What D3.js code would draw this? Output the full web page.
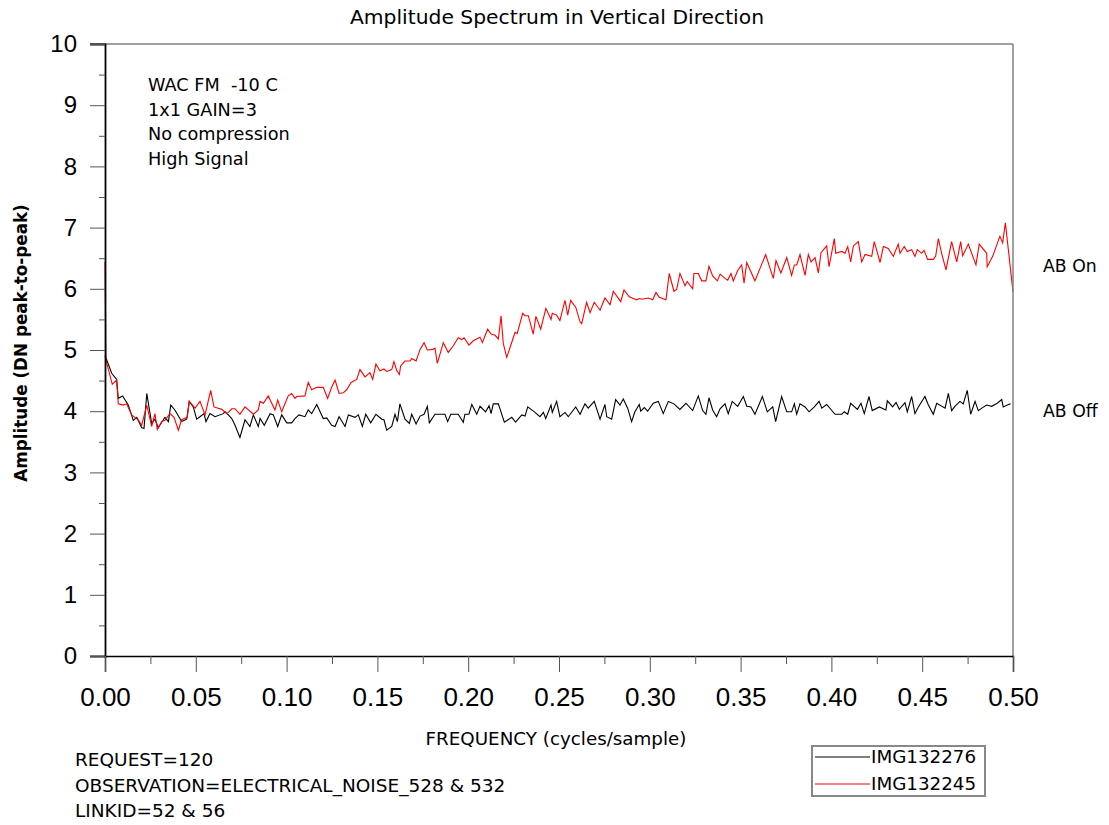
<!DOCTYPE html>
<html>
<head>
<meta charset="utf-8">
<script src="https://cdn.jsdelivr.net/npm/d3@7"></script>
<style>
  body { margin: 0; background: #fff; }
  svg { font-family: "DejaVu Sans", Verdana, sans-serif; }
</style>
</head>
<body>
<svg width="1109" height="825"></svg>
<script>
// Data (frequency in cycles/sample, amplitude in DN)
var freqBlack = [0, 0.0009, 0.0037, 0.0064, 0.0073, 0.0097, 0.0128, 0.0156, 0.0175, 0.0202, 0.0215, 0.0230, 0.0257, 0.0275, 0.0293, 0.0330,
	0.0349, 0.0362, 0.0385, 0.0422, 0.0450, 0.0464, 0.0486, 0.0505, 0.0523, 0.0545, 0.0556, 0.0578, 0.0606, 0.0651, 0.0661, 0.0679,
	0.0698, 0.0716, 0.0743, 0.0771, 0.0798, 0.0817, 0.0844, 0.0854, 0.0877, 0.0909, 0.0927, 0.0951, 0.0973, 0.1001, 0.1028, 0.1046,
	0.1068, 0.1101, 0.1119, 0.1138, 0.1166, 0.1202, 0.1221, 0.1248, 0.1267, 0.1289, 0.1322, 0.1340, 0.1377, 0.1395, 0.1417, 0.1436,
	0.1463, 0.1492, 0.1524, 0.1536, 0.1551, 0.1579, 0.1597, 0.1610, 0.1624, 0.1652, 0.1676, 0.1689, 0.1713, 0.1735, 0.1757, 0.1775,
	0.1786, 0.1817, 0.1872, 0.1887, 0.1904, 0.1945, 0.1973, 0.1982, 0.2004, 0.2020, 0.2047, 0.2065, 0.2096, 0.2115, 0.2126, 0.2138,
	0.2166, 0.2199, 0.2240, 0.2261, 0.2295, 0.2313, 0.2328, 0.2368, 0.2395, 0.2414, 0.2427, 0.2456, 0.2463, 0.2487, 0.2505, 0.2533,
	0.2551, 0.2592, 0.2616, 0.2643, 0.2661, 0.2694, 0.2726, 0.2753, 0.2763, 0.2790, 0.2812, 0.2836, 0.2854, 0.2878, 0.2900, 0.2918,
	0.2942, 0.2950, 0.2970, 0.2988, 0.3019, 0.3047, 0.3074, 0.3102, 0.3133, 0.3166, 0.3199, 0.3236, 0.3267, 0.3291, 0.3309, 0.3326,
	0.3346, 0.3368, 0.3387, 0.3414, 0.3432, 0.3454, 0.3484, 0.3515, 0.3534, 0.3557, 0.3579, 0.3620, 0.3647, 0.3677, 0.3693, 0.3726,
	0.3754, 0.3781, 0.3796, 0.3809, 0.3827, 0.3855, 0.3877, 0.3906, 0.3932, 0.3947, 0.3974, 0.4020, 0.4057, 0.4071, 0.4090, 0.4106,
	0.4143, 0.4163, 0.4181, 0.4207, 0.4225, 0.4264, 0.4300, 0.4308, 0.4337, 0.4356, 0.4374, 0.4405, 0.4418, 0.4442, 0.4460, 0.4479,
	0.4515, 0.4534, 0.4561, 0.4580, 0.4626, 0.4644, 0.4662, 0.4680, 0.4708, 0.4726, 0.4748, 0.4767, 0.4791, 0.4809, 0.4828, 0.4855,
	0.4883, 0.4913, 0.4938, 0.4946, 0.4969, 0.4987];
var ampBlack = [4.90, 4.84, 4.62, 4.52, 4.21, 4.25, 4.10, 3.85, 3.90, 3.73, 3.72, 4.29, 3.80, 3.87, 3.73, 3.90,
	3.83, 4.10, 4.02, 3.83, 3.87, 4.16, 4.07, 3.87, 3.91, 3.96, 3.83, 3.96, 3.91, 3.96, 3.99, 3.94,
	3.88, 3.77, 3.57, 3.86, 3.75, 3.94, 3.75, 3.88, 3.77, 3.96, 3.94, 3.75, 3.94, 3.81, 3.81, 3.88,
	3.94, 3.91, 4.02, 3.96, 4.11, 3.88, 3.89, 3.77, 3.75, 3.91, 3.75, 3.94, 3.90, 3.94, 3.75, 3.95,
	3.81, 3.95, 3.87, 3.86, 3.69, 3.75, 3.95, 3.83, 4.12, 3.87, 3.80, 3.95, 3.79, 3.92, 3.95, 4.08,
	3.81, 3.95, 3.95, 3.83, 3.95, 3.95, 3.82, 3.95, 3.95, 4.11, 3.95, 4.08, 3.99, 4.09, 3.96, 4.12,
	4.12, 3.82, 3.90, 3.82, 3.94, 3.92, 4.07, 3.98, 3.91, 3.98, 3.88, 4.10, 3.98, 4.16, 3.91, 3.98,
	3.91, 4.07, 3.95, 4.12, 4.05, 4.16, 3.87, 4.11, 3.91, 3.87, 4.19, 4.10, 4.20, 4.05, 3.83, 3.99,
	4.11, 4.00, 4.06, 4.00, 4.13, 4.16, 3.96, 4.16, 4.12, 4.03, 4.13, 4.01, 4.25, 4.01, 3.95, 4.22,
	4.02, 3.91, 4.04, 4.12, 3.96, 4.16, 4.08, 4.24, 4.08, 4.07, 3.95, 4.24, 3.99, 4.07, 3.83, 4.24,
	3.99, 3.99, 4.12, 3.95, 4.12, 4.07, 3.99, 4.07, 4.16, 4.05, 4.11, 3.95, 3.95, 3.99, 3.95, 4.13,
	4.03, 4.13, 3.96, 4.24, 4.01, 4.07, 4.02, 4.17, 4.07, 4.14, 4.03, 4.14, 3.99, 4.24, 3.96, 4.07,
	4.24, 4.10, 3.95, 4.13, 4.05, 4.29, 4.01, 4.08, 4.16, 4.12, 4.34, 3.95, 4.16, 4.01, 4.05, 4.10,
	4.08, 4.13, 4.19, 4.07, 4.10, 4.12];

var freqRed = [0, 0.0005, 0.0040, 0.0064, 0.0073, 0.0101, 0.0119, 0.0147, 0.0165, 0.0183, 0.0202, 0.0230, 0.0257, 0.0275, 0.0288, 0.0312,
	0.0330, 0.0358, 0.0380, 0.0404, 0.0422, 0.0453, 0.0464, 0.0496, 0.0523, 0.0551, 0.0582, 0.0600, 0.0643, 0.0670, 0.0679, 0.0698,
	0.0716, 0.0743, 0.0771, 0.0817, 0.0844, 0.0854, 0.0872, 0.0899, 0.0918, 0.0936, 0.0951, 0.0973, 0.1009, 0.1028, 0.1046, 0.1056,
	0.1101, 0.1119, 0.1138, 0.1166, 0.1202, 0.1226, 0.1248, 0.1267, 0.1289, 0.1312, 0.1331, 0.1355, 0.1386, 0.1404, 0.1432, 0.1459,
	0.1474, 0.1492, 0.1514, 0.1536, 0.1551, 0.1579, 0.1591, 0.1606, 0.1621, 0.1628, 0.1652, 0.1680, 0.1689, 0.1713, 0.1735, 0.1757,
	0.1775, 0.1805, 0.1817, 0.1830, 0.1863, 0.1890, 0.1918, 0.1945, 0.1964, 0.1977, 0.2004, 0.2028, 0.2065, 0.2078, 0.2107, 0.2126,
	0.2148, 0.2166, 0.2181, 0.2193, 0.2212, 0.2236, 0.2258, 0.2270, 0.2300, 0.2313, 0.2331, 0.2358, 0.2373, 0.2399, 0.2428, 0.2456,
	0.2463, 0.2487, 0.2505, 0.2533, 0.2548, 0.2564, 0.2592, 0.2616, 0.2625, 0.2652, 0.2671, 0.2694, 0.2726, 0.2753, 0.2781, 0.2799,
	0.2840, 0.2858, 0.2887, 0.2909, 0.2928, 0.2942, 0.2955, 0.2992, 0.3016, 0.3034, 0.3052, 0.3089, 0.3107, 0.3133, 0.3148, 0.3166,
	0.3194, 0.3206, 0.3236, 0.3243, 0.3267, 0.3286, 0.3309, 0.3326, 0.3346, 0.3372, 0.3387, 0.3414, 0.3429, 0.3447, 0.3460, 0.3484,
	0.3506, 0.3519, 0.3534, 0.3579, 0.3638, 0.3680, 0.3695, 0.3722, 0.3754, 0.3781, 0.3796, 0.3809, 0.3827, 0.3855, 0.3873, 0.3888,
	0.3910, 0.3928, 0.3943, 0.3974, 0.3987, 0.4016, 0.4024, 0.4057, 0.4075, 0.4090, 0.4106, 0.4121, 0.4148, 0.4167, 0.4185, 0.4222,
	0.4236, 0.4268, 0.4286, 0.4313, 0.4341, 0.4368, 0.4378, 0.4401, 0.4418, 0.4442, 0.4460, 0.4473, 0.4497, 0.4510, 0.4530, 0.4561,
	0.4574, 0.4589, 0.4607, 0.4631, 0.4662, 0.4690, 0.4712, 0.4723, 0.4754, 0.4796, 0.4814, 0.4855, 0.4858, 0.4888, 0.4928, 0.4943,
	0.4958, 0.5000];
var ampRed = [6.44, 4.84, 4.44, 4.51, 4.12, 4.10, 4.12, 3.94, 3.90, 3.86, 3.77, 4.10, 3.75, 3.96, 3.70, 3.83,
	3.85, 3.96, 3.90, 3.69, 3.86, 3.90, 4.16, 4.05, 4.16, 3.94, 4.34, 4.07, 4.03, 3.96, 3.98, 4.04,
	4.04, 3.95, 4.07, 3.95, 4.02, 4.16, 4.13, 4.25, 4.13, 4.02, 4.18, 3.99, 4.25, 4.29, 4.21, 4.24,
	4.25, 4.47, 4.35, 4.39, 4.39, 4.21, 4.39, 4.51, 4.29, 4.30, 4.35, 4.47, 4.52, 4.68, 4.56, 4.63,
	4.52, 4.77, 4.66, 4.69, 4.65, 4.68, 4.81, 4.67, 4.60, 4.74, 4.82, 4.82, 4.86, 4.82, 5.01, 5.12,
	5.00, 5.01, 5.03, 4.78, 5.12, 4.96, 5.07, 5.20, 5.17, 5.20, 5.08, 5.15, 5.21, 5.12, 5.34, 5.26,
	5.24, 5.18, 5.56, 5.11, 4.88, 5.09, 5.29, 5.27, 5.60, 5.56, 5.56, 5.26, 5.55, 5.34, 5.68, 5.50,
	5.60, 5.57, 5.48, 5.81, 5.57, 5.81, 5.70, 5.46, 5.43, 5.78, 5.61, 5.78, 5.65, 5.85, 5.74, 5.96,
	5.79, 5.98, 5.87, 5.84, 5.82, 5.84, 5.83, 5.85, 5.82, 5.94, 5.86, 5.82, 6.25, 5.96, 5.99, 6.25,
	6.05, 6.12, 6.00, 6.25, 6.25, 6.13, 6.13, 6.37, 6.21, 6.13, 6.24, 6.17, 6.14, 6.25, 6.13, 6.30,
	6.39, 6.09, 6.43, 6.13, 6.56, 6.17, 6.46, 6.26, 6.51, 6.22, 6.39, 6.39, 6.56, 6.22, 6.56, 6.44,
	6.51, 6.26, 6.59, 6.70, 6.36, 6.82, 6.58, 6.61, 6.58, 6.69, 6.44, 6.70, 6.77, 6.44, 6.56, 6.53,
	6.77, 6.43, 6.69, 6.66, 6.53, 6.73, 6.58, 6.69, 6.61, 6.64, 6.53, 6.64, 6.58, 6.63, 6.48, 6.48,
	6.53, 6.82, 6.58, 6.31, 6.77, 6.44, 6.77, 6.54, 6.73, 6.39, 6.73, 6.58, 6.36, 6.53, 6.86, 6.75,
	7.08, 5.95];

var seriesNames = ["IMG132276", "IMG132245"];
var seriesColors = ["#000000", "#ff0000"];
var xTicks = [0, 0.05, 0.10, 0.15, 0.20, 0.25, 0.30, 0.35, 0.40, 0.45, 0.50];
var xMinorTicks = [0.025, 0.075, 0.125, 0.175, 0.225, 0.275, 0.325, 0.375, 0.425, 0.475];
var yTicks = [0, 1, 2, 3, 4, 5, 6, 7, 8, 9, 10];
var yMinorTicks = [0.5, 1.5, 2.5, 3.5, 4.5, 5.5, 6.5, 7.5, 8.5, 9.5];
var infoLines = ["WAC FM  -10 C", "1x1 GAIN=3", "No compression", "High Signal"];
var footLines = ["REQUEST=120", "OBSERVATION=ELECTRICAL_NOISE_528 & 532", "LINKID=52 & 56"];

var svg = d3.select("svg");
// plot box (note: "top" is taken by window.top)
var plotLeft = 105, plotRight = 1013, plotTop = 44, plotBottom = 656;

var x = d3.scaleLinear().domain([0, 0.5]).range([plotLeft, plotRight]);
var y = d3.scaleLinear().domain([0, 10]).range([plotBottom, plotTop]);

// Title
svg.append("text")
	.attr("x", 557).attr("y", 24)
	.attr("text-anchor", "middle")
	.style("font-size", "20.3px")
	.text("Amplitude Spectrum in Vertical Direction");

// Spectra
var line = d3.line()
	.x((d) => x(d[0]))
	.y((d) => y(d[1]));

var blackData = d3.zip(freqBlack, ampBlack);
var redData = d3.zip(freqRed, ampRed);

svg.append("path")
	.datum(blackData)
	.attr("fill", "none")
	.attr("stroke", seriesColors[0])
	.attr("stroke-width", 1.1)
	.attr("d", line);

svg.append("path")
	.datum(redData)
	.attr("fill", "none")
	.attr("stroke", seriesColors[1])
	.attr("stroke-width", 1.1)
	.attr("d", line);

// Frame (top and right)
svg.append("line")
	.attr("x1", plotLeft - 15).attr("x2", plotRight)
	.attr("y1", plotTop).attr("y2", plotTop)
	.attr("stroke", "#808080").attr("stroke-width", 1.5);
svg.append("line")
	.attr("x1", plotRight).attr("x2", plotRight)
	.attr("y1", plotTop).attr("y2", plotBottom)
	.attr("stroke", "#808080").attr("stroke-width", 1.5);

// Y axis
var yAxis = svg.append("g")
	.attr("transform", "translate(" + plotLeft + ",0)")
	.call(d3.axisLeft(y).tickValues(yTicks).tickSize(15).tickPadding(13).tickFormat(d3.format("d")));
yAxis.selectAll("text").style("font-size", "24px").attr("fill", "#000");
yAxis.select(".domain").attr("stroke", "#000").attr("stroke-width", 1.8);
yAxis.selectAll(".tick line").attr("stroke", "#555");

svg.append("g")
	.attr("transform", "translate(" + plotLeft + ",0)")
	.call(d3.axisLeft(y).tickValues(yMinorTicks).tickSize(6).tickFormat(""))
	.call((g) => g.select(".domain").remove())
	.selectAll("line").attr("stroke", "#555");

// X axis
var xAxis = svg.append("g")
	.attr("transform", "translate(0," + plotBottom + ")")
	.call(d3.axisBottom(x).tickValues(xTicks).tickSize(16).tickPadding(16).tickFormat(d3.format(".2f")));
xAxis.selectAll("text").style("font-size", "26px").attr("fill", "#000");
xAxis.select(".domain").attr("stroke", "#000").attr("stroke-width", 1.5);
xAxis.selectAll(".tick line").attr("stroke", "#555");

svg.append("g")
	.attr("transform", "translate(0," + plotBottom + ")")
	.call(d3.axisBottom(x).tickValues(xMinorTicks).tickSize(8).tickFormat(""))
	.call((g) => g.select(".domain").remove())
	.selectAll("line").attr("stroke", "#555");

svg.selectAll(".domain").attr("fill", "none");

// Axis titles
svg.append("text")
	.attr("x", 556).attr("y", 745)
	.attr("text-anchor", "middle")
	.style("font-size", "18.3px")
	.text("FREQUENCY (cycles/sample)");

svg.append("text")
	.attr("transform", "translate(27,343) rotate(-90)")
	.attr("text-anchor", "middle")
	.style("font-size", "16.8px")
	.style("font-weight", "bold")
	.text("Amplitude (DN peak-to-peak)");

// Info block inside plot
svg.append("g").selectAll("text")
	.data(infoLines)
	.enter().append("text")
	.attr("x", 148)
	.attr("y", (d, i) => 91 + i * 24.5)
	.style("font-size", "17.7px")
	.style("white-space", "pre")
	.text((d) => d);

// Right-hand labels
svg.append("text").attr("x", 1043).attr("y", 272).style("font-size", "17.3px").text("AB On");
svg.append("text").attr("x", 1043).attr("y", 417).style("font-size", "17.3px").text("AB Off");

// Footer
svg.append("g").selectAll("text")
	.data(footLines)
	.enter().append("text")
	.attr("x", 75)
	.attr("y", (d, i) => 766 + i * 25.5)
	.style("font-size", "18.5px")
	.text((d) => d);

// Legend
var legend = svg.append("g").attr("transform", "translate(812,746)");
legend.append("rect")
	.attr("width", 173).attr("height", 50)
	.attr("fill", "#fff")
	.attr("stroke", "#888").attr("stroke-width", 2);
legend.selectAll("g.item")
	.data(seriesNames)
	.enter().append("g")
	.attr("class", "item")
	.each(function (d, i) {
		var g = d3.select(this);
		var yy = 11 + i * 27;
		g.append("line")
			.attr("x1", 3).attr("x2", 58)
			.attr("y1", yy).attr("y2", yy)
			.attr("stroke", seriesColors[i]).attr("stroke-width", 1.2);
		g.append("text")
			.attr("x", 59).attr("y", yy + 6)
			.style("font-size", "18.3px")
			.text(d);
	});
</script>
</body>
</html>
